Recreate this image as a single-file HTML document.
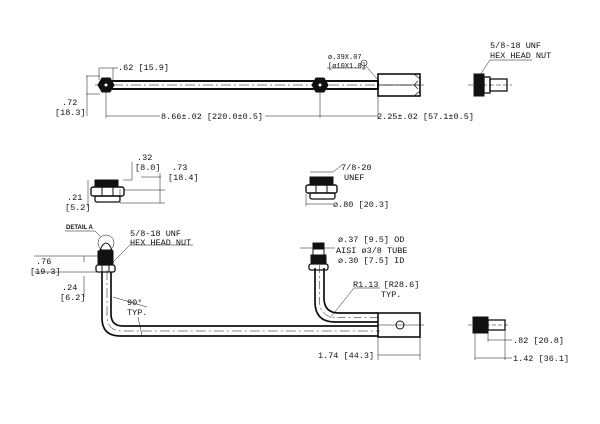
<!DOCTYPE html>
<html><head><style>body{margin:0;background:#fff}svg{display:block}text{font-family:"Liberation Mono",monospace;font-size:8.5px;fill:#111}</style></head><body>
<svg width="600" height="424" viewBox="0 0 600 424" xmlns="http://www.w3.org/2000/svg">
<g stroke="#111" fill="none" stroke-width="1">
<rect x="106" y="81" width="272" height="8" stroke-width="2"/>
<line x1="95" y1="85" x2="424" y2="85" stroke-dasharray="10,3,2,3" stroke-width="0.6"/>
<polygon points="98,85 102,78 110,78 114,85 110,92 102,92" fill="#111"/>
<circle cx="106" cy="85" r="2" fill="#fff"/>
<polygon points="312,85 316,78 324,78 328,85 324,92 316,92" fill="#111"/>
<circle cx="320" cy="85" r="2" fill="#fff"/>
<rect x="378" y="74" width="42" height="22" stroke-width="1.6"/>
<line x1="378" y1="85" x2="420" y2="85" stroke-width="0.8"/>
<path d="M414,74 L420,79 M414,96 L420,91 M414,85 L418,81 M414,85 L418,89" stroke-width="0.7"/>
<line x1="99" y1="68" x2="99" y2="80" stroke-width="0.5"/><line x1="113" y1="68" x2="113" y2="80" stroke-width="0.5"/>
<line x1="99" y1="68" x2="118" y2="68" stroke-width="0.5"/>
<line x1="86" y1="76" x2="100" y2="76" stroke-width="0.5"/><line x1="86" y1="94" x2="100" y2="94" stroke-width="0.5"/>
<line x1="87" y1="76" x2="87" y2="116" stroke-width="0.5"/>
<line x1="106" y1="91" x2="106" y2="118" stroke-width="0.5"/><line x1="320" y1="91" x2="320" y2="118" stroke-width="0.5"/><line x1="378" y1="96" x2="378" y2="118" stroke-width="0.5"/>
<line x1="106" y1="116" x2="160" y2="116" stroke-width="0.5"/><line x1="265" y1="116" x2="378" y2="116" stroke-width="0.5"/>
<line x1="327" y1="68" x2="366" y2="68" stroke-width="0.5"/>
<circle cx="364" cy="63" r="3" stroke-width="0.6"/>
<line x1="366" y1="66" x2="378" y2="80" stroke-width="0.5"/>
<rect x="474" y="74" width="10" height="22" fill="#111"/>
<rect x="484" y="77" width="6" height="16" stroke-width="1.3"/>
<rect x="490" y="79" width="17" height="12" stroke-width="1.3"/>
<line x1="468" y1="85" x2="512" y2="85" stroke-dasharray="5,2" stroke-width="0.5"/>
<polyline points="532,60 490,60 480,75" stroke-width="0.5"/>
<rect x="95" y="180" width="23" height="7" fill="#111"/>
<rect x="91" y="187" width="33" height="9" rx="2" stroke-width="1.4"/>
<line x1="102" y1="187" x2="102" y2="196"/><line x1="113" y1="187" x2="113" y2="196"/>
<rect x="95" y="196" width="25" height="6" rx="2" stroke-width="1.3"/>
<polyline points="123,180 132,180 132,162" stroke-width="0.5"/>
<line x1="124" y1="190" x2="165" y2="190" stroke-width="0.5"/>
<line x1="120" y1="203" x2="165" y2="203" stroke-width="0.5"/>
<polyline points="160,173 160,203" stroke-width="0.5"/>
<polyline points="141,177 161,177" stroke-width="0.5"/>
<polyline points="120,203 120,189" stroke-width="0.5"/>
<polyline points="88,180 88,207" stroke-width="0.5"/>
<rect x="310" y="177" width="23" height="8" fill="#111"/>
<rect x="306" y="185" width="31" height="8" rx="2" stroke-width="1.4"/>
<line x1="316" y1="185" x2="316" y2="193"/><line x1="327" y1="185" x2="327" y2="193"/>
<rect x="310" y="193" width="25" height="6" rx="2" stroke-width="1.3"/>
<line x1="310" y1="172" x2="333" y2="172" stroke-width="0.5"/>
<polyline points="333,172 342,165" stroke-width="0.5"/>
<line x1="306" y1="204" x2="333" y2="204" stroke-width="0.5"/>
<line x1="306" y1="194" x2="306" y2="206" stroke-width="0.5"/>
<path d="M102,272 L102,318 Q102,336 120,336 L378,336" stroke-width="1.7"/>
<path d="M111,272 L111,314 Q111,326 123,326 L378,326" stroke-width="1.7"/>
<path d="M107,270 L107,316 Q107,331 122,331 L380,331" stroke-dasharray="10,3,2,3" stroke-width="0.5"/>
<path d="M315,268 L315,302 Q315,322 335,322 L378,322" stroke-width="1.7"/>
<path d="M324,268 L324,298 Q324,313 339,313 L378,313" stroke-width="1.7"/>
<path d="M319.5,265 L319.5,300 Q319.5,317.5 337,317.5 L378,317.5" stroke-dasharray="8,3,2,3" stroke-width="0.5"/>
<rect x="378" y="313" width="42" height="24" stroke-width="1.6"/>
<circle cx="400" cy="325" r="4"/>
<line x1="378" y1="325" x2="424" y2="325" stroke-width="0.5"/>
<path d="M100,250 Q106,236 112,250 Z"/>
<rect x="98" y="251" width="15" height="14" fill="#111"/>
<rect x="96" y="265" width="19" height="7" rx="2" stroke-width="1.3"/>
<line x1="102" y1="265" x2="102" y2="272"/><line x1="109" y1="265" x2="109" y2="272"/>
<circle cx="106" cy="243" r="8" stroke-width="0.5"/>
<line x1="65" y1="231" x2="95" y2="231" stroke-width="0.6"/>
<line x1="95" y1="231" x2="101" y2="237" stroke-width="0.5"/>
<polyline points="193,245 130,245 113,262" stroke-width="0.5"/>
<line x1="34" y1="256" x2="98" y2="256" stroke-width="0.5"/>
<line x1="34" y1="272" x2="98" y2="272" stroke-width="0.5"/>
<line x1="84" y1="276" x2="84" y2="297" stroke-width="0.5"/>
<line x1="84" y1="256" x2="84" y2="262" stroke-width="0.5"/>
<rect x="313" y="243" width="11" height="6" fill="#111"/>
<rect x="313" y="249" width="11" height="6"/>
<rect x="311" y="255" width="15" height="9" fill="#111"/>
<rect x="309" y="264" width="19" height="6" rx="2" stroke-width="1.3"/>
<line x1="300" y1="248" x2="313" y2="248" stroke-width="0.5"/><line x1="324" y1="248" x2="335" y2="248" stroke-width="0.5"/>
<line x1="147" y1="307" x2="113" y2="297" stroke-width="0.5"/>
<line x1="138" y1="317" x2="142" y2="336" stroke-width="0.5"/>
<polyline points="380,288 354,288 330,318" stroke-width="0.5"/>
<line x1="378" y1="337" x2="378" y2="360" stroke-width="0.5"/><line x1="420" y1="337" x2="420" y2="360" stroke-width="0.5"/>
<line x1="378" y1="355" x2="420" y2="355" stroke-width="0.5"/>
<rect x="473" y="317" width="15" height="16" fill="#111"/>
<rect x="488" y="320" width="17" height="10" stroke-width="1.3"/>
<line x1="468" y1="325" x2="510" y2="325" stroke-dasharray="4,2" stroke-width="0.5"/>
<line x1="475" y1="333" x2="475" y2="360" stroke-width="0.5"/>
<line x1="488" y1="330" x2="488" y2="342" stroke-width="0.5"/>
<line x1="505" y1="330" x2="505" y2="360" stroke-width="0.5"/>
<line x1="488" y1="340" x2="512" y2="340" stroke-width="0.5"/>
<line x1="475" y1="358" x2="512" y2="358" stroke-width="0.5"/>
</g>
<text x="118" y="70">.62 [15.9]</text>
<text x="62" y="105">.72</text><text x="55" y="115">[18.3]</text>
<text x="161" y="119">8.66±.02 [220.0±0.5]</text>
<text x="377" y="119">2.25±.02 [57.1±0.5]</text>
<text x="328" y="59" style="font-size:7px">ø.39X.07</text><text x="328" y="68" style="font-size:7px">[ø10X1.8]</text>
<text x="490" y="48">5/8-18 UNF</text><text x="490" y="58">HEX HEAD NUT</text>
<text x="137" y="160">.32</text><text x="135" y="170">[8.0]</text>
<text x="172" y="170">.73</text><text x="168" y="180">[18.4]</text>
<text x="67" y="200">.21</text><text x="65" y="210">[5.2]</text>
<text x="341" y="170">7/8-20</text><text x="344" y="180">UNEF</text>
<text x="333" y="207">ø.80 [20.3]</text>
<text x="66" y="229" style="font-size:6px;font-weight:bold;font-family:'Liberation Sans',sans-serif">DETAIL A</text>
<text x="130" y="236">5/8-18 UNF</text><text x="130" y="245">HEX HEAD NUT</text>
<text x="36" y="264">.76</text><text x="30" y="274">[19.3]</text>
<text x="62" y="290">.24</text><text x="60" y="300">[6.2]</text>
<text x="127" y="305">90°</text><text x="127" y="315">TYP.</text>
<text x="338" y="242">ø.37 [9.5] OD</text><text x="336" y="253">AISI ø3/8 TUBE</text><text x="338" y="263">ø.30 [7.5] ID</text>
<text x="353" y="287">R1.13 [R28.6]</text><text x="381" y="297">TYP.</text>
<text x="318" y="358">1.74 [44.3]</text>
<text x="513" y="343">.82 [20.8]</text>
<text x="513" y="361">1.42 [36.1]</text>
</svg>
</body></html>
